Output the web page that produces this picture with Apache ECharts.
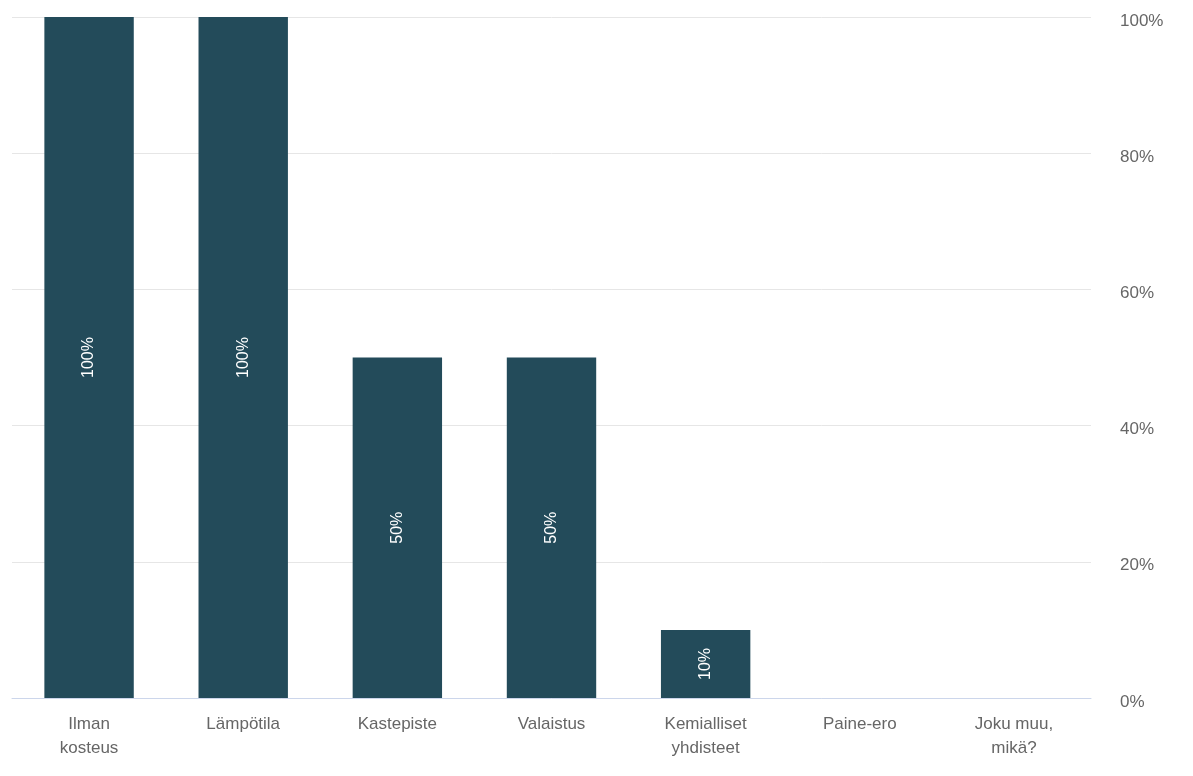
<!DOCTYPE html>
<html>
<head>
<meta charset="utf-8">
<script src="https://cdn.jsdelivr.net/npm/echarts@6/dist/echarts.min.js"></script>
<style>
  html, body { margin: 0; padding: 0; background: #fff; }
  #chart { width: 1193px; height: 776px; }
</style>
</head>
<body>
<div id="chart"></div>
<script>
// Survey answers: which indoor conditions are measured (share of respondents)
const categories = ['Ilman\nkosteus', 'Lämpötila', 'Kastepiste', 'Valaistus', 'Kemialliset\nyhdisteet', 'Paine-ero', 'Joku muu,\nmikä?'];
const shares = [100, 100, 50, 50, 10, 0, 0];
const yTicks = [0, 20, 40, 60, 80, 100];

const chart = echarts.init(document.getElementById('chart'));
chart.setOption({
  animation: false,
  grid: { left: 12, right: 102, top: 17, bottom: 78 },
  xAxis: {
    type: 'category',
    data: categories,
    axisLine: { lineStyle: { color: '#ccd6eb', width: 1 } },
    axisTick: { show: false },
    axisLabel: {
      color: '#666666',
      fontFamily: 'Liberation Sans, Arial, sans-serif',
      fontSize: 17,
      lineHeight: 24,
      margin: 14,
      interval: 0
    }
  },
  yAxis: {
    type: 'value',
    position: 'right',
    min: yTicks[0],
    max: yTicks[yTicks.length - 1],
    interval: 20,
    axisLine: { show: false },
    axisTick: { show: false },
    splitLine: { lineStyle: { color: '#e6e6e6', width: 1 } },
    axisLabel: {
      color: '#666666',
      fontFamily: 'Liberation Sans, Arial, sans-serif',
      fontSize: 17,
      margin: 29,
      formatter: v => '{t|' + v + '%}',
      rich: {
        t: {
          color: '#666666',
          fontFamily: 'Liberation Sans, Arial, sans-serif',
          fontSize: 17,
          padding: [8, 0, 0, 0]
        }
      }
    }
  },
  series: [{
    type: 'bar',
    data: shares,
    barWidth: '58%',
    itemStyle: { color: '#234b5a' },
    label: {
      show: true,
      position: 'inside',
      rotate: 90,
      color: '#ffffff',
      fontFamily: 'Liberation Sans, Arial, sans-serif',
      fontSize: 16,
      formatter: p => p.value > 0 ? p.value + '%' : ''
    }
  }]
});
</script>
</body>
</html>
